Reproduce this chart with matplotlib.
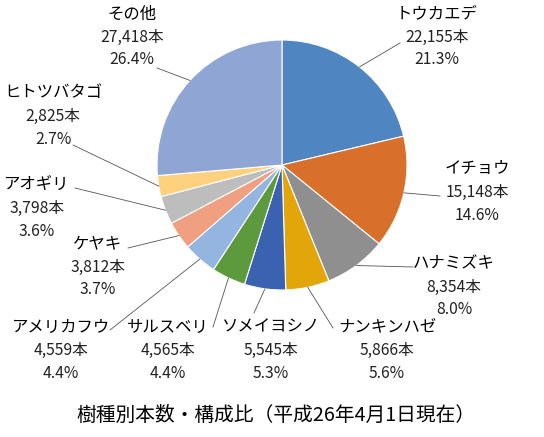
import numpy as np
import matplotlib
matplotlib.use("Agg")
import matplotlib.pyplot as plt

plt.rcParams['font.family'] = ['Noto Sans CJK JP', 'DejaVu Sans']

# data (clockwise from 12 o'clock)
species = ["トウカエデ", "イチョウ", "ハナミズキ", "ナンキンハゼ", "ソメイヨシノ",
           "サルスベリ", "アメリカフウ", "ケヤキ", "アオギリ", "ヒトツバタゴ", "その他"]
counts = [22155, 15148, 8354, 5866, 5545, 4565, 4559, 3812, 3798, 2825, 27418]
shares = ["21.3%", "14.6%", "8.0%", "5.6%", "5.3%", "4.4%", "4.4%", "3.7%", "3.6%", "2.7%", "26.4%"]
title = "樹種別本数・構成比（平成26年4月1日現在）"

colors = ["#4F86C1", "#D86F2B", "#8F8F8F", "#E2A60A", "#3A62B0", "#5C9A3D",
          "#93B5E0", "#F0A080", "#BDBDBD", "#FDD17E", "#8FA5D3"]

W, H = 544, 437
# layout in image pixels (x right, y down)
center_px = (282, 165)
radius_px = 125
label_px = [(437, 37), (477, 192), (454, 287), (387, 350), (271, 350), (168, 350),
            (61, 350), (98, 267), (37, 208), (53, 116), (132, 37)]
line_end_px = [(400, 43), (440, 196), (413, 267), (333, 328), (254, 313), (213, 327),
               (110, 330), (128, 248), (75, 188), (73, 145), (157, 68)]
line_gap = 23


def flip(p):
    return (p[0], H - p[1])


fig = plt.figure(figsize=(W / 100, H / 100), dpi=100)
ax = fig.add_axes([0, 0, 1, 1])
ax.set_xlim(0, W)
ax.set_ylim(0, H)
ax.set_aspect('equal')
ax.axis('off')

cx, cy = flip(center_px)
wedges, _ = ax.pie(counts, colors=colors, startangle=90, counterclock=False,
                   center=(cx, cy), radius=radius_px,
                   wedgeprops=dict(edgecolor='white', linewidth=0.8))
ax.set_xlim(0, W)
ax.set_ylim(0, H)

for i, w in enumerate(wedges):
    ang = np.deg2rad((w.theta1 + w.theta2) / 2)
    sx = cx + radius_px * np.cos(ang)
    sy = cy + radius_px * np.sin(ang)
    ex, ey = flip(line_end_px[i])
    ax.plot([sx, ex], [sy, ey], color='#555555', lw=0.6, zorder=3)
    lx, ly = flip(label_px[i])
    ax.text(lx, ly + line_gap, species[i], ha='center', va='center', fontsize=11.8, color='black')
    ax.text(lx, ly, f"{counts[i]:,}本", ha='center', va='center', fontsize=11.3, color='#222222')
    ax.text(lx, ly - line_gap, shares[i], ha='center', va='center', fontsize=11.3, color='#222222')

tx, ty = flip((276, 415))
ax.text(tx, ty, title, ha='center', va='center', fontsize=14.2, color='black')

fig.savefig("out.png", dpi=100)
